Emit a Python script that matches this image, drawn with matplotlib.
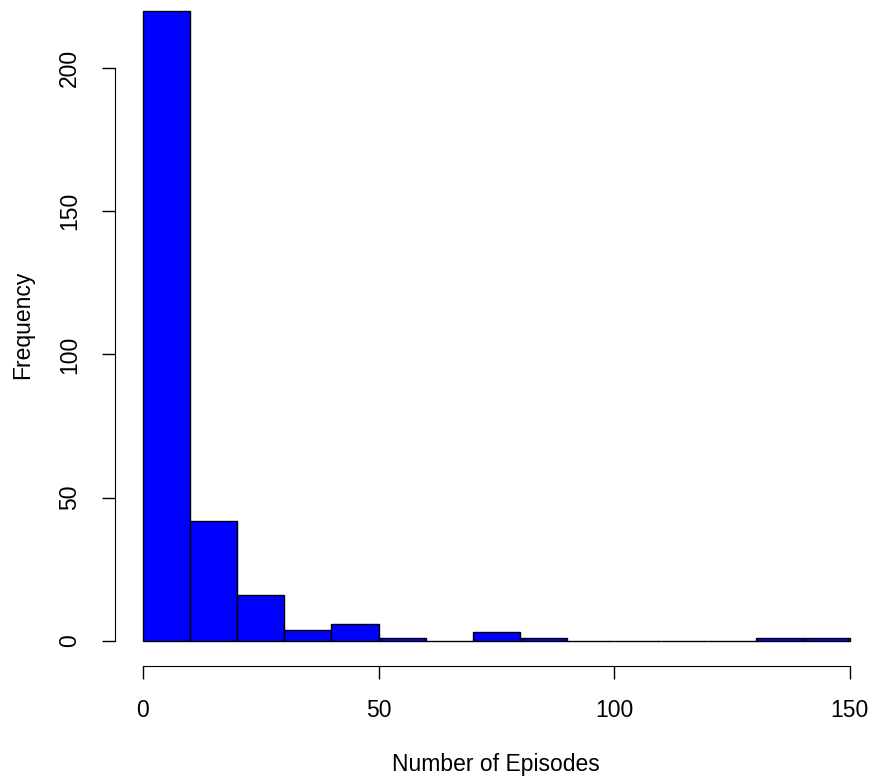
import matplotlib.pyplot as plt
import matplotlib as mpl
import numpy as np

mpl.rcParams.update({
    'font.family': ['Liberation Sans', 'DejaVu Sans'],
    'font.size': 16.5,
})

# ---------- Data (histogram counts, bin width 10) ----------
bin_edges = [0, 10, 20, 30, 40, 50, 60, 70, 80, 90, 100, 110, 120, 130, 140, 150]
counts = [220, 42, 16, 4, 6, 1, 0, 3, 1, 0, 0, 0, 0, 1, 1]
x_ticks = [0, 50, 100, 150]
y_ticks = [0, 50, 100, 150, 200]

W, H = 869, 777
fig = plt.figure(figsize=(W / 100, H / 100), dpi=100)
# axes box in pixels: left 114.7, right 878.1, bottom 666.2, top -14.5
ax_l, ax_r, ax_b, ax_t = 114.7, 878.1, 666.2, -14.5
ax = fig.add_axes([ax_l / W, 1 - ax_b / H, (ax_r - ax_l) / W, (ax_b - ax_t) / H])

lefts = np.array(bin_edges[:-1])
widths = np.diff(bin_edges)
ax.bar(lefts, counts, width=widths, align='edge',
       color='#0000ff', edgecolor='black', linewidth=1.0)

ax.set_xlim(-6, 156)
ax.set_ylim(-8.8, 228.8)
ax.set_xticks(x_ticks)
ax.set_yticks(y_ticks)
ax.set_yticklabels([str(v) for v in y_ticks], rotation=90, va='center')

for s in ['top', 'right']:
    ax.spines[s].set_visible(False)
ax.spines['left'].set_bounds(0, 200)
ax.spines['bottom'].set_bounds(0, 150)
ax.tick_params(direction='out', length=9.4, width=1)
ax.tick_params(axis='x', pad=14)
ax.tick_params(axis='y', pad=15)

ax.set_xlabel('Number of Episodes', va='baseline')
ax.set_ylabel('Frequency', va='baseline')
aw, ah = ax_r - ax_l, ax_b - ax_t
ax.xaxis.set_label_coords(0.5 * 0 + (496 - ax_l) / aw, (ax_b - 771) / ah)
ax.yaxis.set_label_coords((29 - ax_l) / aw, (ax_b - 325) / ah)

fig.savefig('out.png', dpi=100, facecolor='white')
